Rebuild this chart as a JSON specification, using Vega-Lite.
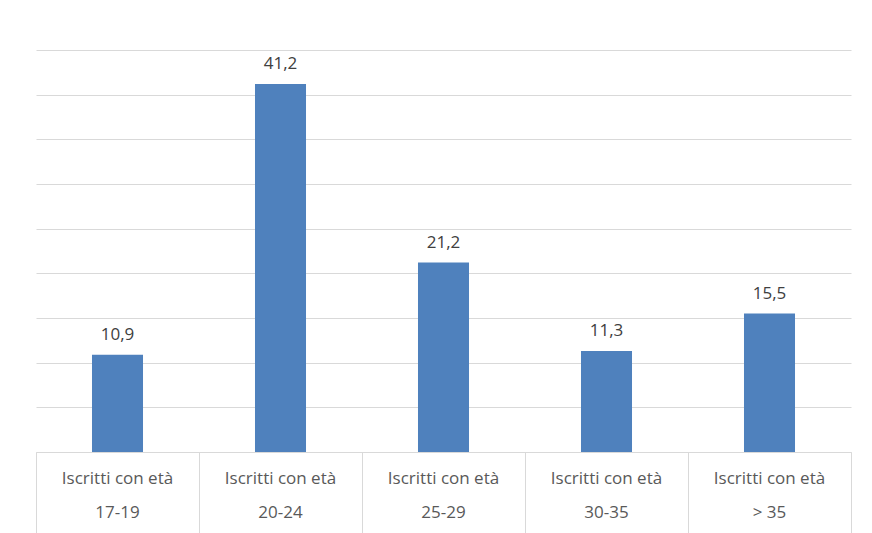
{
  "$schema": "https://vega.github.io/schema/vega-lite/v6.json",
  "width": 815,
  "height": 402,
  "autosize": {"type": "none"},
  "padding": {"left": 36, "top": 50, "right": 21, "bottom": 81},
  "background": "white",
  "config": {"view": {"stroke": null}},
  "data": {
    "values": [
      {"cat": "Iscritti con età|17-19", "val": 10.9, "label": "10,9"},
      {"cat": "Iscritti con età|20-24", "val": 41.2, "label": "41,2"},
      {"cat": "Iscritti con età|25-29", "val": 21.2, "label": "21,2"},
      {"cat": "Iscritti con età|30-35", "val": 11.3, "label": "11,3"},
      {"cat": "Iscritti con età|> 35", "val": 15.5, "label": "15,5"}
    ]
  },
  "layer": [
    {
      "mark": {"type": "bar", "color": "#4f81bd", "width": {"band": 0.313}},
      "encoding": {
        "x": {
          "field": "cat", "type": "nominal", "sort": null,
          "scale": {"paddingInner": 0, "paddingOuter": 0},
          "axis": {
            "orient": "bottom",
            "title": null, "labelAngle": 0, "bandPosition": 0,
            "labelExpr": "split(datum.label, '|')",
            "labelFont": "Open Sans", "labelFontSize": 17, "labelColor": "#595959",
            "labelLineHeight": 34, "labelBaseline": "top", "labelPadding": -63,
            "ticks": true, "tickSize": 81, "tickColor": "#d9d9d9", "tickWidth": 1,
            "domain": true, "domainColor": "#d9d9d9", "domainWidth": 1
          }
        },
        "y": {
          "field": "val", "type": "quantitative",
          "scale": {"domain": [0, 45]},
          "axis": {
            "title": null, "values": [0, 5, 10, 15, 20, 25, 30, 35, 40, 45],
            "labels": false, "ticks": false, "domain": false,
            "grid": true, "gridColor": "#d9d9d9", "gridWidth": 1
          }
        }
      }
    },
    {
      "mark": {"type": "text", "baseline": "alphabetic", "dy": -15, "font": "Open Sans", "fontSize": 17, "color": "#404040"},
      "encoding": {
        "x": {
          "field": "cat", "type": "nominal", "sort": null,
          "axis": {
            "orient": "bottom",
            "title": null, "labels": false, "domain": false, "bandPosition": 1,
            "ticks": true, "tickSize": 81, "tickColor": "#d9d9d9", "tickWidth": 1, "grid": false
          }
        },
        "y": {"field": "val", "type": "quantitative"},
        "text": {"field": "label"}
      }
    }
  ],
  "resolve": {"axis": {"x": "independent"}}
}
